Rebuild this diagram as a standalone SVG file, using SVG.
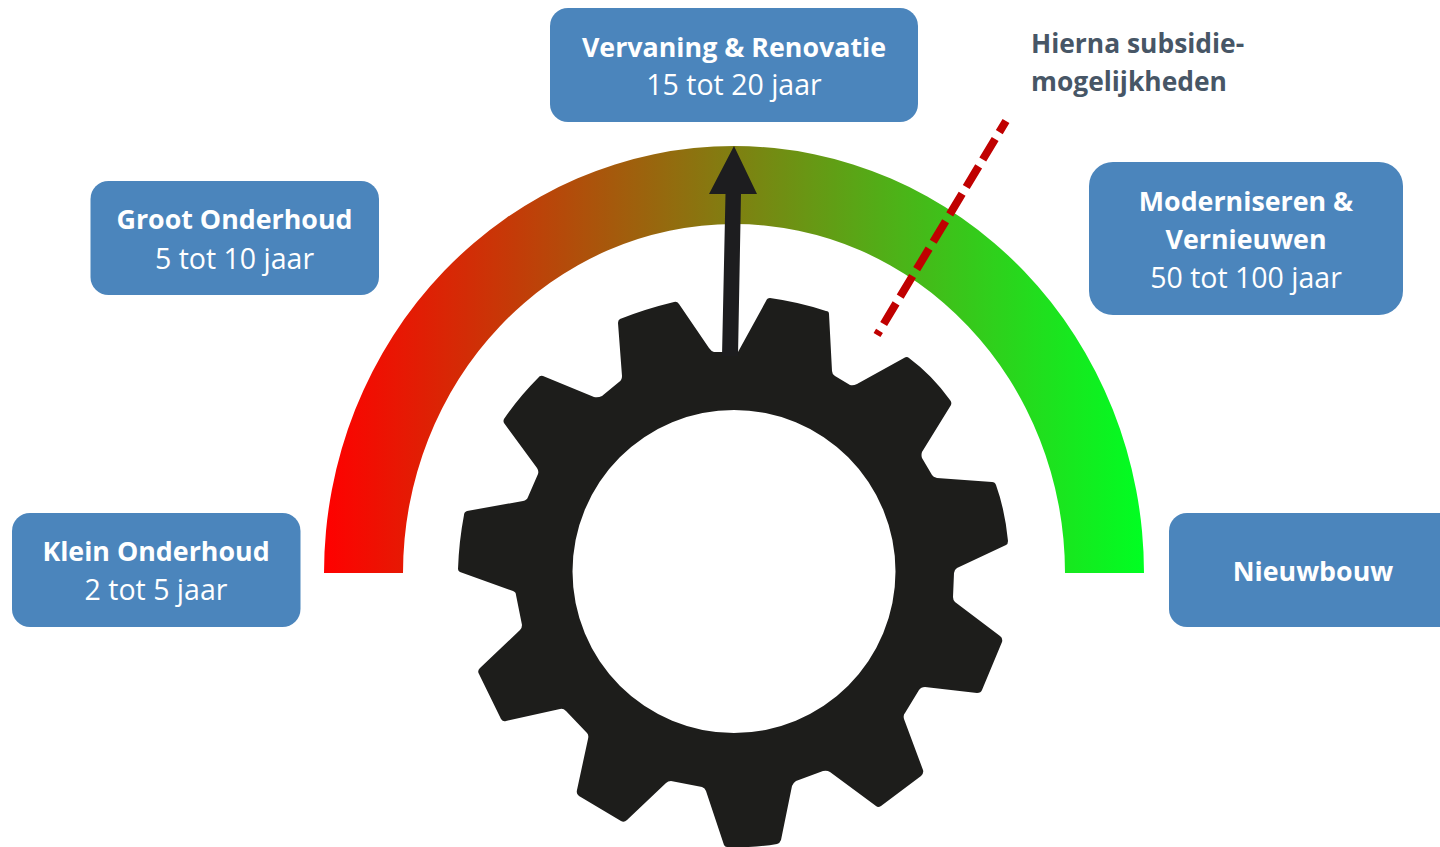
<svg xmlns="http://www.w3.org/2000/svg" width="1440" height="847" viewBox="0 0 1440 847">
<style>
.box{fill:#4b85bc}
text{font-family:"Open Sans","Noto Sans","Liberation Sans",sans-serif;text-anchor:middle;fill:#fff;font-size:28.500px}
.b{font-weight:700;font-size:26.800px}
.note{fill:#475666;text-anchor:start;font-weight:700;font-size:26.400px}
</style>
<defs>
<linearGradient id="g" gradientUnits="userSpaceOnUse" x1="324" y1="0" x2="1144" y2="0">
<stop offset="0" stop-color="#ff0000"/><stop offset="1" stop-color="#00ff22"/>
</linearGradient>
</defs>
<rect width="1440" height="847" fill="#fff"/>
<path id="gauge" fill="url(#g)" d="M324 573A410 427 0 0 1 1144 573H1065A331 349 0 0 0 403 573Z"/>
<g id="gear"><path fill="#1d1d1b" fill-rule="evenodd" d="M722 352L714 352Q711 351 709 348L679 304Q677 301 674 302Q645 309 620 319Q618 320 618 323L622 376Q622 380 619 382L602 396Q598 398 594 397L543 376Q540 375 538 378Q519 397 504 419Q503 421 504 423L537 468Q539 471 538 474L528 497Q527 500 523 501L467 511Q464 512 464 515Q459 541 458 569Q458 571 460 572L513 591Q516 592 516 595L522 625Q522 628 520 630L480 668Q477 671 479 674L501 719Q503 722 506 721L560 709Q563 708 566 711L587 733Q589 735 588 739L577 790Q576 794 579 796L621 821Q624 823 627 820L666 783Q668 781 671 781L702 787Q705 788 706 791L724 845Q725 847 727 847Q755 848 777 844Q780 843 781 840L792 786Q793 783 796 781L823 771Q827 770 830 772L876 806Q878 808 881 806L921 776Q924 773 923 770L904 719Q903 715 905 713L919 690Q921 687 925 687L977 693Q981 693 982 690L1002 642Q1003 638 1000 636L955 602Q953 600 953 597L954 573Q954 570 957 568L1006 545Q1008 544 1008 541Q1005 510 996 485Q995 482 992 482L937 478Q933 477 932 475L922 458Q921 455 922 452L951 405Q952 402 950 400Q932 375 909 358Q907 356 904 358L857 384Q853 386 850 385L835 376Q832 374 832 371L829 314Q829 311 826 311Q799 302 770 298Q767 298 766 301L738 352ZM734 410A161.500 161.500 0 1 0 734.010 733A161.500 161.500 0 1 0 734 410Z"/></g>
<g id="connectors">
<path id="arrow" fill="#1d1d1f" d="M734 146L757 194H741L738 356H722L725.500 194H709Z"/>
<line id="dashed" x1="1006" y1="121" x2="877" y2="335" stroke="#c00000" stroke-width="8" stroke-dasharray="24 8" stroke-dashoffset="11"/>
</g>
<g id="n1"><rect class="box" x="12" y="513" width="288.500" height="114" rx="18"/><text class="b" x="156" y="561">Klein Onderhoud</text><text x="156" y="600">2 tot 5 jaar</text></g>
<g id="n2"><rect class="box" x="90.500" y="181" width="288.500" height="114" rx="18"/><text class="b" x="234.500" y="229">Groot Onderhoud</text><text x="234.500" y="269">5 tot 10 jaar</text></g>
<g id="n3"><rect class="box" x="550" y="8" width="368" height="114" rx="18"/><text class="b" x="734" y="57">Vervaning &amp; Renovatie</text><text x="734" y="95">15 tot 20 jaar</text></g>
<g id="n4"><rect class="box" x="1089" y="162" width="314" height="153" rx="24"/><text class="b" x="1246" y="211">Moderniseren &amp;</text><text class="b" x="1246" y="249">Vernieuwen</text><text x="1246" y="288">50 tot 100 jaar</text></g>
<g id="n5"><path class="box" d="M1440 513H1187A18 18 0 0 0 1169 531V609A18 18 0 0 0 1187 627H1440Z"/><text class="b" x="1313" y="581">Nieuwbouw</text></g>
<g id="note"><text class="note" x="1031" y="53">Hierna subsidie-</text><text class="note" x="1031" y="91">mogelijkheden</text></g>
</svg>
